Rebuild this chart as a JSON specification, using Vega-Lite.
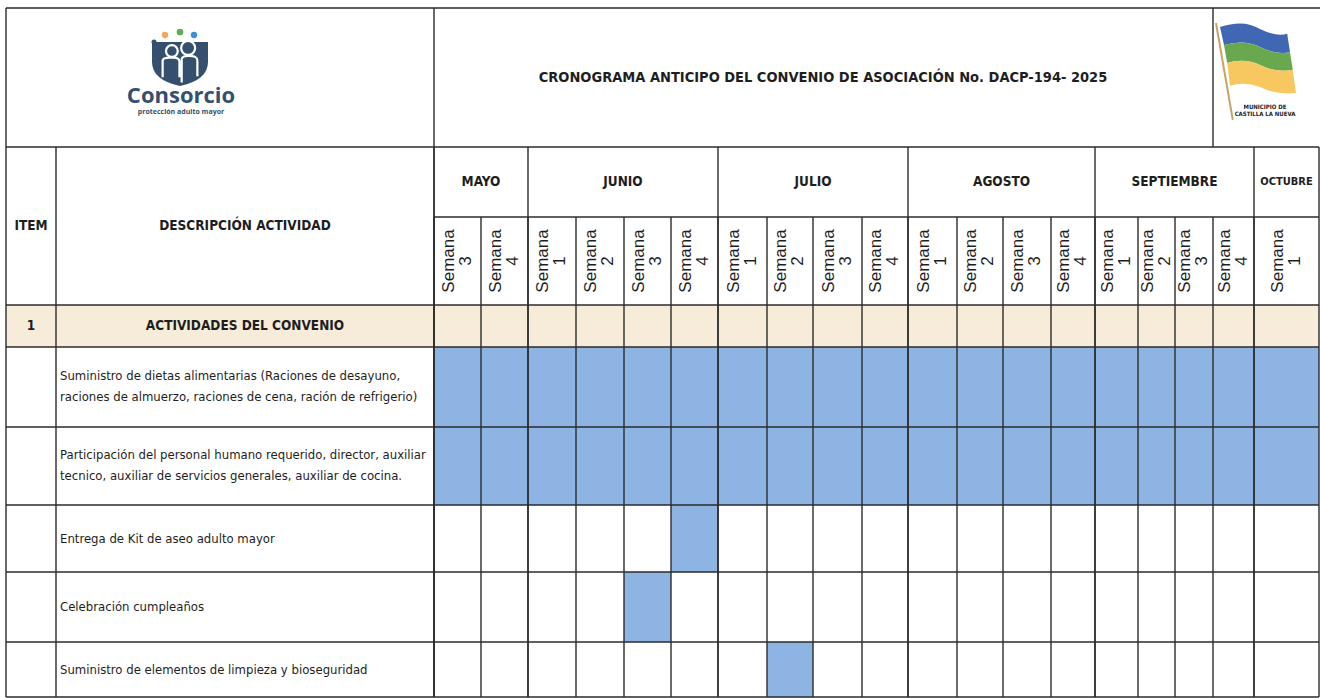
{
  "$schema": "https://vega.github.io/schema/vega-lite/v6.json",
  "width": 1320,
  "height": 698,
  "autosize": {"type": "none"},
  "padding": 0,
  "background": "#ffffff",
  "config": {"view": {"stroke": null}},
  "datasets": {
    "semanas": [
      {"mes": "MAYO", "etiqueta": "Semana 3", "idx": 0},
      {"mes": "MAYO", "etiqueta": "Semana 4", "idx": 1},
      {"mes": "JUNIO", "etiqueta": "Semana 1", "idx": 2},
      {"mes": "JUNIO", "etiqueta": "Semana 2", "idx": 3},
      {"mes": "JUNIO", "etiqueta": "Semana 3", "idx": 4},
      {"mes": "JUNIO", "etiqueta": "Semana 4", "idx": 5},
      {"mes": "JULIO", "etiqueta": "Semana 1", "idx": 6},
      {"mes": "JULIO", "etiqueta": "Semana 2", "idx": 7},
      {"mes": "JULIO", "etiqueta": "Semana 3", "idx": 8},
      {"mes": "JULIO", "etiqueta": "Semana 4", "idx": 9},
      {"mes": "AGOSTO", "etiqueta": "Semana 1", "idx": 10},
      {"mes": "AGOSTO", "etiqueta": "Semana 2", "idx": 11},
      {"mes": "AGOSTO", "etiqueta": "Semana 3", "idx": 12},
      {"mes": "AGOSTO", "etiqueta": "Semana 4", "idx": 13},
      {"mes": "SEPTIEMBRE", "etiqueta": "Semana 1", "idx": 14},
      {"mes": "SEPTIEMBRE", "etiqueta": "Semana 2", "idx": 15},
      {"mes": "SEPTIEMBRE", "etiqueta": "Semana 3", "idx": 16},
      {"mes": "SEPTIEMBRE", "etiqueta": "Semana 4", "idx": 17},
      {"mes": "OCTUBRE", "etiqueta": "Semana 1", "idx": 18}
    ],
    "meses": [
      {"mes": "MAYO", "orden": 0, "ini": 0},
      {"mes": "JUNIO", "orden": 1, "ini": 2},
      {"mes": "JULIO", "orden": 2, "ini": 6},
      {"mes": "AGOSTO", "orden": 3, "ini": 10},
      {"mes": "SEPTIEMBRE", "orden": 4, "ini": 14},
      {"mes": "OCTUBRE", "orden": 5, "ini": 18}
    ],
    "actividades": [
      {"item": "1", "actividad": "ACTIVIDADES DEL CONVENIO", "tipo": "seccion", "fila_ini": 3, "fila_fin": 4},
      {"item": "", "actividad": "Suministro de dietas alimentarias (Raciones de desayuno,\nraciones de almuerzo, raciones de cena, ración de refrigerio)", "tipo": "actividad", "fila_ini": 4, "fila_fin": 5, "semana_ini": 0, "semana_fin": 19},
      {"item": "", "actividad": "Participación del personal humano requerido, director, auxiliar\ntecnico, auxiliar de servicios generales, auxiliar de cocina.", "tipo": "actividad", "fila_ini": 5, "fila_fin": 6, "semana_ini": 0, "semana_fin": 19},
      {"item": "", "actividad": "Entrega de Kit de aseo adulto mayor", "tipo": "actividad", "fila_ini": 6, "fila_fin": 7, "semana_ini": 5, "semana_fin": 6},
      {"item": "", "actividad": "Celebración cumpleaños", "tipo": "actividad", "fila_ini": 7, "fila_fin": 8, "semana_ini": 4, "semana_fin": 5},
      {"item": "", "actividad": "Suministro de elementos de limpieza y bioseguridad", "tipo": "actividad", "fila_ini": 8, "fila_fin": 9, "semana_ini": 7, "semana_fin": 8}
    ],
    "titulo": [{"texto": "CRONOGRAMA ANTICIPO DEL CONVENIO DE ASOCIACIÓN No. DACP-194- 2025"}],
    "logo": [{"nombre": "Consorcio", "lema": "protección adulto mayor", "municipio": "MUNICIPIO DE\nCASTILLA LA NUEVA"}]
  },
  "resolve": {"scale": {"x": "independent", "y": "independent"}},
  "layer": [
    {
      "data": {"name": "actividades"},
      "transform": [{"filter": "datum.tipo === 'seccion'"}],
      "mark": {"type": "rect", "color": "#F7ECDA"},
      "encoding": {
        "x": {"datum": -2, "type": "quantitative", "axis": null, "scale": {"domain": [-2,-1,0,1,2,3,4,5,6,7,8,9,10,11,12,13,14,15,16,17,18,19], "range": [6,56,434,481,528,576,624,671,718,767,813,862,908,957,1003,1051,1095,1138,1175,1213,1254,1319], "zero": false, "nice": false}},
        "x2": {"datum": 19},
        "y": {"field": "fila_ini", "type": "quantitative", "axis": null, "scale": {"domain": [0,1,2,3,4,5,6,7,8,9], "range": [8,147,217,305,347,427,505,572,642,697], "zero": false, "nice": false}},
        "y2": {"field": "fila_fin"}
      }
    },
    {
      "data": {"name": "actividades"},
      "transform": [{"filter": "datum.tipo === 'actividad'"}],
      "mark": {"type": "rect", "color": "#8DB4E2"},
      "encoding": {
        "x": {"field": "semana_ini", "type": "quantitative", "axis": null, "scale": {"domain": [-2,-1,0,1,2,3,4,5,6,7,8,9,10,11,12,13,14,15,16,17,18,19], "range": [6,56,434,481,528,576,624,671,718,767,813,862,908,957,1003,1051,1095,1138,1175,1213,1254,1319], "zero": false, "nice": false}},
        "x2": {"field": "semana_fin"},
        "y": {"field": "fila_ini", "type": "quantitative", "axis": null, "scale": {"domain": [0,1,2,3,4,5,6,7,8,9], "range": [8,147,217,305,347,427,505,572,642,697], "zero": false, "nice": false}},
        "y2": {"field": "fila_fin"}
      }
    },
    {
      "data": {"name": "actividades"},
      "mark": {"type": "rule", "color": "#2b2b2b", "strokeWidth": 1.4},
      "encoding": {
        "y": {"field": "fila_ini", "type": "quantitative", "axis": null, "scale": {"domain": [0,1,2,3,4,5,6,7,8,9], "range": [8,147,217,305,347,427,505,572,642,697], "zero": false, "nice": false}},
        "x": {"datum": -2, "type": "quantitative", "axis": null, "scale": {"domain": [-2,-1,0,1,2,3,4,5,6,7,8,9,10,11,12,13,14,15,16,17,18,19], "range": [6,56,434,481,528,576,624,671,718,767,813,862,908,957,1003,1051,1095,1138,1175,1213,1254,1319], "zero": false, "nice": false}},
        "x2": {"datum": 19}
      }
    },
    {
      "data": {"values": [{"borde": "superior", "y": 0, "a": -2, "b": 21}, {"borde": "titulo", "y": 1, "a": -2, "b": 19}, {"borde": "meses", "y": 2, "a": 0, "b": 19}, {"borde": "inferior", "y": 9, "a": -2, "b": 19}]},
      "mark": {"type": "rule", "color": "#2b2b2b", "strokeWidth": 1.4},
      "encoding": {
        "y": {"field": "y", "type": "quantitative", "axis": null, "scale": {"domain": [0,1,2,3,4,5,6,7,8,9], "range": [8,147,217,305,347,427,505,572,642,697], "zero": false, "nice": false}},
        "x": {"field": "a", "type": "quantitative", "axis": null, "scale": {"domain": [-2,-1,0,1,2,3,4,5,6,7,8,9,10,11,12,13,14,15,16,17,18,19,21], "range": [6,56,434,481,528,576,624,671,718,767,813,862,908,957,1003,1051,1095,1138,1175,1213,1254,1319,1330], "zero": false, "nice": false}},
        "x2": {"field": "b"}
      }
    },
    {
      "data": {"name": "semanas"},
      "mark": {"type": "rule", "color": "#2b2b2b", "strokeWidth": 1.4},
      "encoding": {
        "x": {"field": "idx", "type": "quantitative", "axis": null, "scale": {"domain": [-2,-1,0,1,2,3,4,5,6,7,8,9,10,11,12,13,14,15,16,17,18,19], "range": [6,56,434,481,528,576,624,671,718,767,813,862,908,957,1003,1051,1095,1138,1175,1213,1254,1319], "zero": false, "nice": false}},
        "y": {"datum": 2, "type": "quantitative", "axis": null, "scale": {"domain": [0,1,2,3,4,5,6,7,8,9], "range": [8,147,217,305,347,427,505,572,642,697], "zero": false, "nice": false}},
        "y2": {"datum": 9}
      }
    },
    {
      "data": {"name": "meses"},
      "mark": {"type": "rule", "color": "#2b2b2b", "strokeWidth": 1.4},
      "encoding": {
        "x": {"field": "ini", "type": "quantitative", "axis": null, "scale": {"domain": [-2,-1,0,1,2,3,4,5,6,7,8,9,10,11,12,13,14,15,16,17,18,19], "range": [6,56,434,481,528,576,624,671,718,767,813,862,908,957,1003,1051,1095,1138,1175,1213,1254,1319], "zero": false, "nice": false}},
        "y": {"datum": 1, "type": "quantitative", "axis": null, "scale": {"domain": [0,1,2,3,4,5,6,7,8,9], "range": [8,147,217,305,347,427,505,572,642,697], "zero": false, "nice": false}},
        "y2": {"datum": 9}
      }
    },
    {
      "data": {"values": [{"borde": "izquierdo", "x": -2, "a": 0, "b": 9}, {"borde": "item", "x": -1, "a": 1, "b": 9}, {"borde": "descripcion", "x": 0, "a": 0, "b": 9}, {"borde": "escudo", "x": 17, "a": 0, "b": 1}, {"borde": "derecho", "x": 19, "a": 1, "b": 9}]},
      "mark": {"type": "rule", "color": "#2b2b2b", "strokeWidth": 1.4},
      "encoding": {
        "x": {"field": "x", "type": "quantitative", "axis": null, "scale": {"domain": [-2,-1,0,1,2,3,4,5,6,7,8,9,10,11,12,13,14,15,16,17,18,19], "range": [6,56,434,481,528,576,624,671,718,767,813,862,908,957,1003,1051,1095,1138,1175,1213,1254,1319], "zero": false, "nice": false}},
        "y": {"field": "a", "type": "quantitative", "axis": null, "scale": {"domain": [0,1,2,3,4,5,6,7,8,9], "range": [8,147,217,305,347,427,505,572,642,697], "zero": false, "nice": false}},
        "y2": {"field": "b"}
      }
    },
    {
      "data": {"name": "titulo"},
      "mark": {"type": "text", "font": "Liberation Sans Narrow, DejaVu Sans Condensed, sans-serif", "fontWeight": "bold", "fontSize": 14.5, "color": "#1e1e1e", "align": "center", "baseline": "middle", "dx": 10},
      "encoding": {
        "text": {"field": "texto"},
        "x": {"datum": 8, "type": "quantitative", "axis": null, "scale": {"domain": [-2,-1,0,1,2,3,4,5,6,7,8,9,10,11,12,13,14,15,16,17,18,19], "range": [6,56,434,481,528,576,624,671,718,767,813,862,908,957,1003,1051,1095,1138,1175,1213,1254,1319], "zero": false, "nice": false}},
        "y": {"datum": 0.5, "type": "quantitative", "axis": null, "scale": {"domain": [0,1,2,3,4,5,6,7,8,9], "range": [8,147,217,305,347,427,505,572,642,697], "zero": false, "nice": false}}
      }
    },
    {
      "data": {"values": [{"encabezado": "ITEM", "col": -1.5}, {"encabezado": "DESCRIPCIÓN ACTIVIDAD", "col": -0.5}]},
      "mark": {"type": "text", "font": "Liberation Sans Narrow, DejaVu Sans Condensed, sans-serif", "fontWeight": "bold", "fontSize": 13.5, "color": "#1e1e1e", "align": "center", "baseline": "middle", "dy": 9},
      "encoding": {
        "text": {"field": "encabezado"},
        "x": {"field": "col", "type": "quantitative", "axis": null, "scale": {"domain": [-2,-1,0,1,2,3,4,5,6,7,8,9,10,11,12,13,14,15,16,17,18,19], "range": [6,56,434,481,528,576,624,671,718,767,813,862,908,957,1003,1051,1095,1138,1175,1213,1254,1319], "zero": false, "nice": false}},
        "y": {"datum": 2, "type": "quantitative", "axis": null, "scale": {"domain": [0,1,2,3,4,5,6,7,8,9], "range": [8,147,217,305,347,427,505,572,642,697], "zero": false, "nice": false}}
      }
    },
    {
      "data": {"name": "meses"},
      "mark": {"type": "text", "font": "Liberation Sans Narrow, DejaVu Sans Condensed, sans-serif", "fontWeight": "bold", "color": "#1e1e1e", "align": "center", "baseline": "middle"},
      "encoding": {
        "text": {"field": "mes"},
        "size": {"condition": {"test": "datum.mes === 'OCTUBRE'", "value": 11}, "value": 13.5},
        "x": {"field": "orden", "type": "quantitative", "axis": null, "scale": {"domain": [0,1,2,3,4,5], "range": [481,623,813,1001.5,1174.5,1286.5], "zero": false, "nice": false}},
        "y": {"datum": 1.5, "type": "quantitative", "axis": null, "scale": {"domain": [0,1,2,3,4,5,6,7,8,9], "range": [8,147,217,305,347,427,505,572,642,697], "zero": false, "nice": false}}
      }
    },
    {
      "data": {"name": "semanas"},
      "mark": {"type": "text", "font": "Liberation Sans, Arial, sans-serif", "fontSize": 17, "lineHeight": 17, "lineBreak": " ", "angle": 270, "color": "#1e1e1e", "align": "center", "baseline": "line-bottom"},
      "encoding": {
        "text": {"field": "etiqueta"},
        "x": {"field": "idx", "type": "quantitative", "axis": null, "scale": {"domain": [0,1,2,3,4,5,6,7,8,9,10,11,12,13,14,15,16,17,18], "range": [457.5,504.5,552,600,647.5,694.5,742.5,790,837.5,885,932.5,980,1027,1073,1116.5,1156.5,1194,1233.5,1286.5], "zero": false, "nice": false}},
        "y": {"datum": 2.5, "type": "quantitative", "axis": null, "scale": {"domain": [0,1,2,3,4,5,6,7,8,9], "range": [8,147,217,305,347,427,505,572,642,697], "zero": false, "nice": false}}
      }
    },
    {
      "data": {"name": "actividades"},
      "transform": [{"filter": "datum.tipo === 'seccion'"}],
      "mark": {"type": "text", "font": "Liberation Sans Narrow, DejaVu Sans Condensed, sans-serif", "fontWeight": "bold", "fontSize": 13.5, "color": "#1e1e1e", "align": "center", "baseline": "middle"},
      "encoding": {
        "text": {"field": "item"},
        "x": {"datum": -1.5, "type": "quantitative", "axis": null, "scale": {"domain": [-2,-1,0,1,2,3,4,5,6,7,8,9,10,11,12,13,14,15,16,17,18,19], "range": [6,56,434,481,528,576,624,671,718,767,813,862,908,957,1003,1051,1095,1138,1175,1213,1254,1319], "zero": false, "nice": false}},
        "y": {"field": "fila_ini", "type": "quantitative", "axis": null, "scale": {"domain": [3,4,5,6,7,8], "range": [326,387,466,538.5,607,669.5], "zero": false, "nice": false}}
      }
    },
    {
      "data": {"name": "actividades"},
      "transform": [{"filter": "datum.tipo === 'seccion'"}],
      "mark": {"type": "text", "font": "Liberation Sans Narrow, DejaVu Sans Condensed, sans-serif", "fontWeight": "bold", "fontSize": 13.5, "color": "#1e1e1e", "align": "center", "baseline": "middle"},
      "encoding": {
        "text": {"field": "actividad"},
        "x": {"datum": -0.5, "type": "quantitative", "axis": null, "scale": {"domain": [-2,-1,0,1,2,3,4,5,6,7,8,9,10,11,12,13,14,15,16,17,18,19], "range": [6,56,434,481,528,576,624,671,718,767,813,862,908,957,1003,1051,1095,1138,1175,1213,1254,1319], "zero": false, "nice": false}},
        "y": {"field": "fila_ini", "type": "quantitative", "axis": null, "scale": {"domain": [3,4,5,6,7,8], "range": [326,387,466,538.5,607,669.5], "zero": false, "nice": false}}
      }
    },
    {
      "data": {"name": "actividades"},
      "transform": [{"filter": "datum.tipo === 'actividad' && indexof(datum.actividad, '\\n') >= 0"}],
      "mark": {"type": "text", "font": "Liberation Sans Narrow, DejaVu Sans Condensed, sans-serif", "fontSize": 13, "lineHeight": 21, "lineBreak": "\n", "color": "#1e1e1e", "align": "left", "baseline": "line-bottom", "dx": 4},
      "encoding": {
        "text": {"field": "actividad"},
        "x": {"datum": -1, "type": "quantitative", "axis": null, "scale": {"domain": [-2,-1,0,1,2,3,4,5,6,7,8,9,10,11,12,13,14,15,16,17,18,19], "range": [6,56,434,481,528,576,624,671,718,767,813,862,908,957,1003,1051,1095,1138,1175,1213,1254,1319], "zero": false, "nice": false}},
        "y": {"field": "fila_ini", "type": "quantitative", "axis": null, "scale": {"domain": [3,4,5,6,7,8], "range": [326,387,466,538.5,607,669.5], "zero": false, "nice": false}}
      }
    },
    {
      "data": {"name": "actividades"},
      "transform": [{"filter": "datum.tipo === 'actividad' && indexof(datum.actividad, '\\n') < 0"}],
      "mark": {"type": "text", "font": "Liberation Sans Narrow, DejaVu Sans Condensed, sans-serif", "fontSize": 13, "color": "#1e1e1e", "align": "left", "baseline": "middle", "dx": 4},
      "encoding": {
        "text": {"field": "actividad"},
        "x": {"datum": -1, "type": "quantitative", "axis": null, "scale": {"domain": [-2,-1,0,1,2,3,4,5,6,7,8,9,10,11,12,13,14,15,16,17,18,19], "range": [6,56,434,481,528,576,624,671,718,767,813,862,908,957,1003,1051,1095,1138,1175,1213,1254,1319], "zero": false, "nice": false}},
        "y": {"field": "fila_ini", "type": "quantitative", "axis": null, "scale": {"domain": [3,4,5,6,7,8], "range": [326,387,466,538.5,607,669.5], "zero": false, "nice": false}}
      }
    },
    {
      "data": {"name": "logo"},
      "layer": [
        {"mark": {"type": "point", "shape": "M-1,-0.64 L1,-0.64 L1,0.07 Q1,0.71 0,0.93 Q-1,0.71 -1,0.07 Z", "size": 3136, "filled": true, "opacity": 1, "color": "#34506E", "strokeWidth": 0, "xOffset": 124, "yOffset": 52}},
        {"mark": {"type": "point", "shape": "M-0.5,-0.32 A0.21,0.21 0 1,0 -0.08,-0.32 A0.21,0.21 0 1,0 -0.5,-0.32 Z M0.04,-0.43 A0.25,0.25 0 1,0 0.54,-0.43 A0.25,0.25 0 1,0 0.04,-0.43 Z M-0.62,0.62 L-0.62,0.02 Q-0.6,-0.1 -0.29,-0.08 Q-0.02,-0.1 -0.02,0.05 L-0.02,0.62 M0.06,0.8 L0.06,-0.04 Q0.1,-0.16 0.3,-0.15 Q0.62,-0.16 0.62,0.02 L0.62,0.58", "size": 3136, "filled": false, "opacity": 1, "color": "#ffffff", "strokeWidth": 2.2, "xOffset": 124, "yOffset": 52}},
        {"mark": {"type": "point", "shape": "circle", "size": 40, "filled": true, "opacity": 1, "color": "#F2A65A", "strokeWidth": 0, "xOffset": 109, "yOffset": 27}},
        {"mark": {"type": "point", "shape": "circle", "size": 45, "filled": true, "opacity": 1, "color": "#5DAE4E", "strokeWidth": 0, "xOffset": 124, "yOffset": 24}},
        {"mark": {"type": "point", "shape": "circle", "size": 40, "filled": true, "opacity": 1, "color": "#3B8FD4", "strokeWidth": 0, "xOffset": 138, "yOffset": 27}},
        {"mark": {"type": "point", "shape": "circle", "size": 25, "filled": true, "opacity": 1, "color": "#34506E", "strokeWidth": 0, "xOffset": 98, "yOffset": 34}},
        {"mark": {"type": "text", "font": "Open Sans, sans-serif", "fontWeight": "bold", "fontSize": 22, "color": "#34506E", "align": "center", "baseline": "middle", "dx": 125, "dy": 88}, "encoding": {"text": {"field": "nombre"}}},
        {"mark": {"type": "text", "font": "Open Sans, sans-serif", "fontWeight": "bold", "fontSize": 7, "color": "#34506E", "align": "center", "baseline": "middle", "dx": 125, "dy": 104}, "encoding": {"text": {"field": "lema"}}}
      ],
      "encoding": {
        "x": {"datum": -1, "type": "quantitative", "axis": null, "scale": {"domain": [-2,-1,0,1,2,3,4,5,6,7,8,9,10,11,12,13,14,15,16,17,18,19], "range": [6,56,434,481,528,576,624,671,718,767,813,862,908,957,1003,1051,1095,1138,1175,1213,1254,1319], "zero": false, "nice": false}},
        "y": {"datum": 0, "type": "quantitative", "axis": null, "scale": {"domain": [0,1,2,3,4,5,6,7,8,9], "range": [8,147,217,305,347,427,505,572,642,697], "zero": false, "nice": false}}
      }
    },
    {
      "data": {"name": "logo"},
      "layer": [
        {"mark": {"type": "point", "shape": "M-0.9,-0.75 Q-0.3,-0.95 0.1,-0.7 Q0.5,-0.5 0.78,-0.58 L0.85,-0.12 Q0.5,-0.05 0.1,-0.25 Q-0.3,-0.45 -0.8,-0.3 Z", "size": 6400, "filled": true, "opacity": 1, "color": "#3F67B3", "strokeWidth": 0, "xOffset": 43, "yOffset": 49}},
        {"mark": {"type": "point", "shape": "M-0.8,-0.3 Q-0.3,-0.45 0.1,-0.25 Q0.5,-0.05 0.85,-0.12 L0.92,0.32 Q0.5,0.4 0.1,0.2 Q-0.3,0.02 -0.72,0.15 Z", "size": 6400, "filled": true, "opacity": 1, "color": "#6AA84F", "strokeWidth": 0, "xOffset": 43, "yOffset": 49}},
        {"mark": {"type": "point", "shape": "M-0.72,0.15 Q-0.3,0.02 0.1,0.2 Q0.5,0.4 0.92,0.32 L1,0.9 Q0.5,0.95 0.1,0.75 Q-0.3,0.6 -0.65,0.72 Z", "size": 6400, "filled": true, "opacity": 1, "color": "#F6C85F", "strokeWidth": 0, "xOffset": 43, "yOffset": 49}},
        {"mark": {"type": "point", "shape": "M-1,-0.85 L-0.58,1.57", "size": 6400, "filled": false, "opacity": 1, "color": "#C9A268", "strokeWidth": 2, "xOffset": 43, "yOffset": 49}},
        {"mark": {"type": "text", "font": "Liberation Sans Narrow, DejaVu Sans Condensed, sans-serif", "fontWeight": "bold", "fontSize": 6, "lineHeight": 7, "lineBreak": "\n", "color": "#222222", "align": "center", "baseline": "line-bottom", "dx": 52, "dy": 103}, "encoding": {"text": {"field": "municipio"}}}
      ],
      "encoding": {
        "x": {"datum": 17, "type": "quantitative", "axis": null, "scale": {"domain": [-2,-1,0,1,2,3,4,5,6,7,8,9,10,11,12,13,14,15,16,17,18,19], "range": [6,56,434,481,528,576,624,671,718,767,813,862,908,957,1003,1051,1095,1138,1175,1213,1254,1319], "zero": false, "nice": false}},
        "y": {"datum": 0, "type": "quantitative", "axis": null, "scale": {"domain": [0,1,2,3,4,5,6,7,8,9], "range": [8,147,217,305,347,427,505,572,642,697], "zero": false, "nice": false}}
      }
    }
  ]
}
